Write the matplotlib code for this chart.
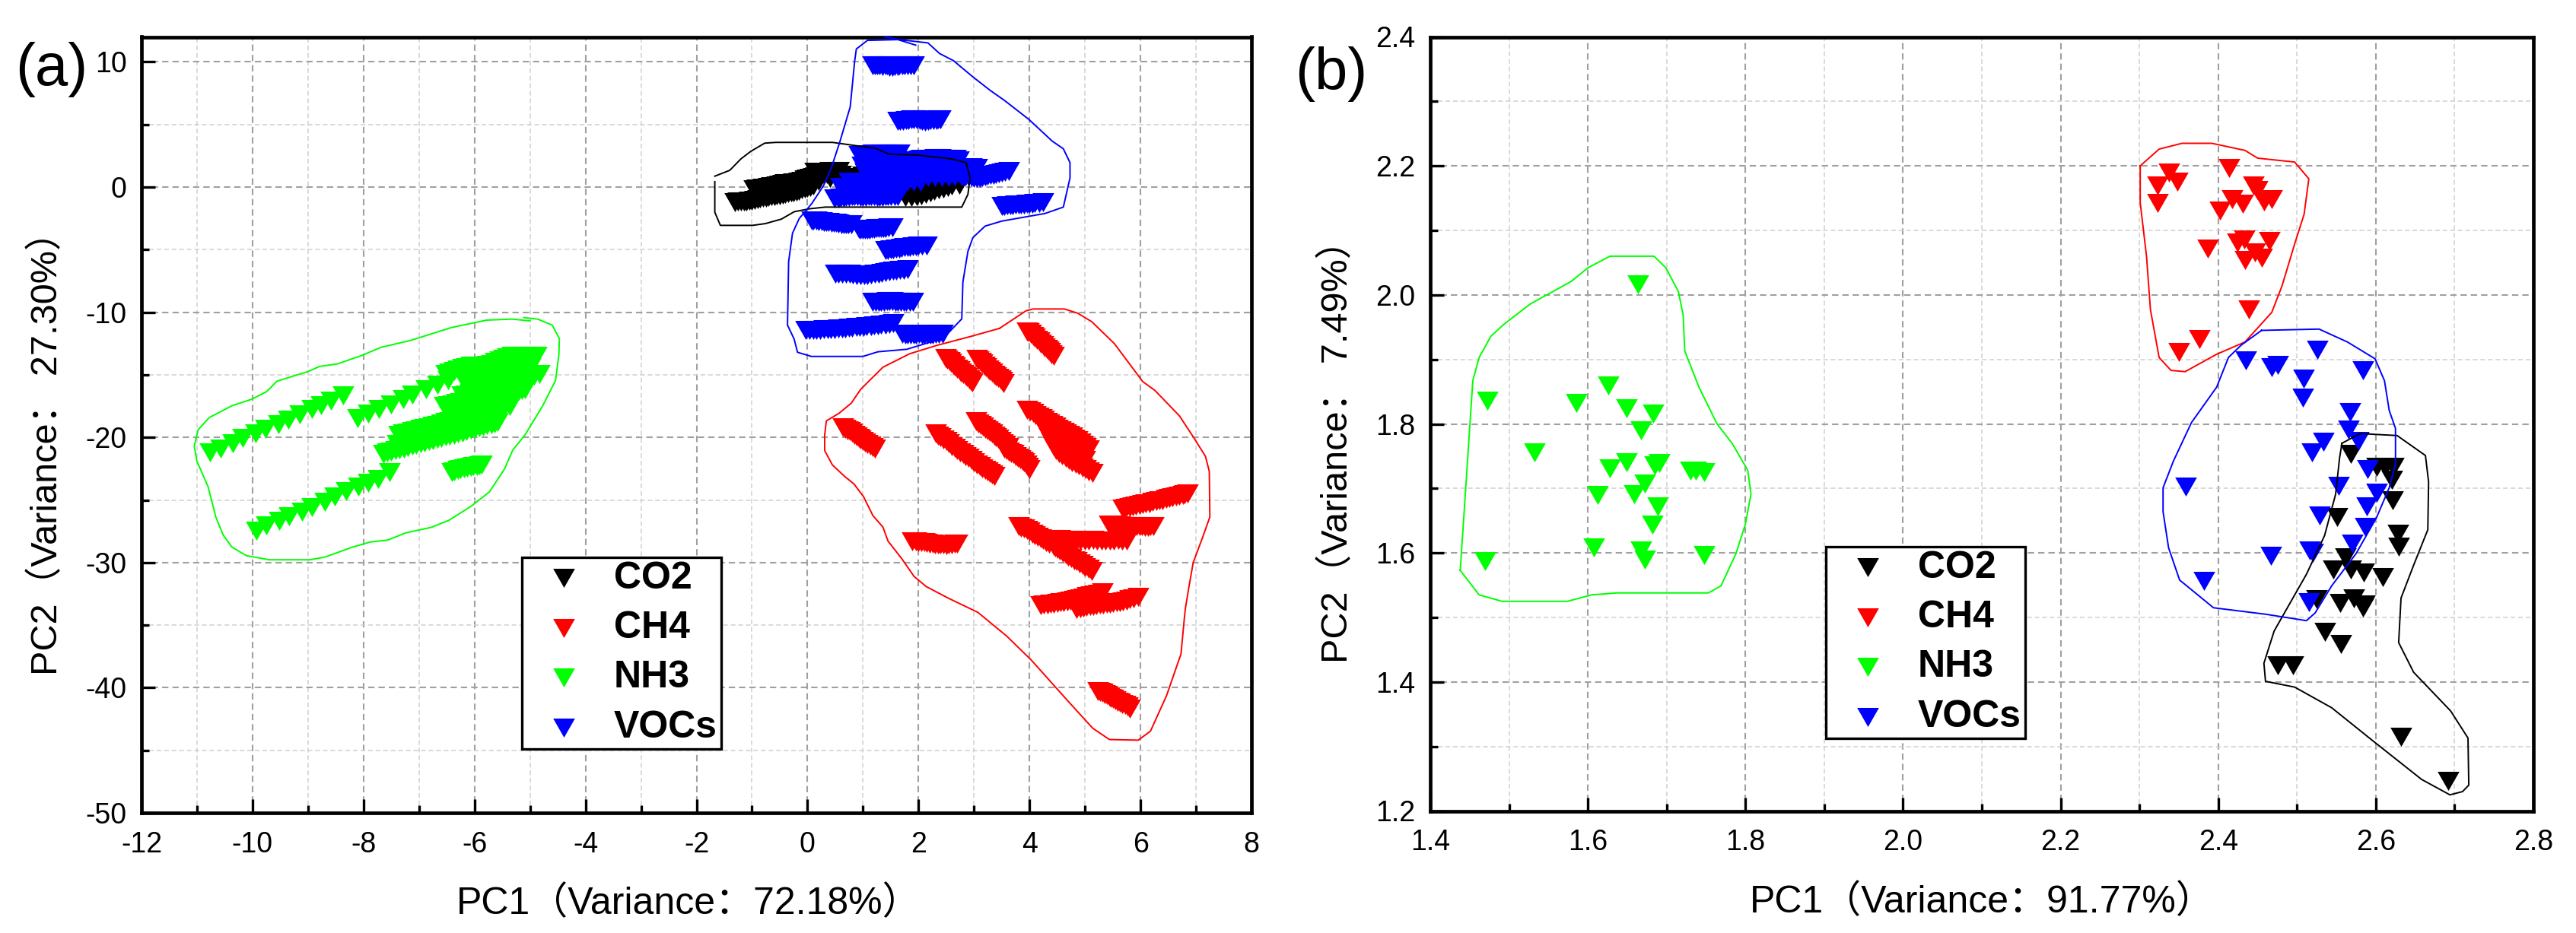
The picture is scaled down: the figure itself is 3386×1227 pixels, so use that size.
import matplotlib
matplotlib.use('Agg')
import matplotlib.pyplot as plt
from matplotlib.ticker import MultipleLocator

plt.rcParams['font.family'] = ['Liberation Sans', 'Noto Sans CJK SC']

names = ['CO2', 'CH4', 'NH3', 'VOCs']
colors = ['#000000', '#ff0000', '#00ff00', '#0000ff']

# panel (a) points, one block per streak
a_co2_x = [-1.31, -1.2, -1.1, -1.0, -.9, -.8, -.7, -.6, -.5, -.4, -.3, -.2, -.1, 0, .1,
           -.97, -.85, -.75, -.65, -.55, -.45, -.35, -.25, -.15, -.05, .05, .15, .25, .35, .45, .56,
           .13, .25, .4, .56,
           .6, .7, .78, .9, 1.0,
           1.76, 1.87, 1.97, 2.05, 2.13, 2.21, 2.29, 2.37, 2.45, 2.53, 2.6, 2.73,
           -1.25, -1.15, -1.05, -.95, -.85, -.75, -.65, -.55, -.45, -.35, -.25, -.15, -.05, .05,
           -.91, -.8, -.7, -.6, -.5, -.4, -.3, -.2, -.1, 0, .1, .2, .3, .4, .5,
           -.6, -.4, -.2, 0, .2, .4, .6]
a_co2_y = [-1.2, -1.15, -1.15, -1.1, -.95, -.85, -.8, -.7, -.65, -.55, -.45, -.35, -.2, -.05, .1,
           -.2, -.1, -.05, .05, .1, .25, .3, .35, .4, .6, .7, .85, .95, 1.05, 1.2, 1.25,
           1.2, 1.2, 1.25, 1.25,
           .4, .5, .69, .8, .9,
           -.8, -.8, -.75, -.65, -.55, -.45, -.3, -.2, -.1, 0, .1, .2,
           -1.18, -1.15, -1.12, -1.02, -.9, -.82, -.75, -.68, -.6, -.5, -.4, -.28, -.12, .02,
           -.15, -.08, 0, .08, .18, .28, .32, .38, .5, .65, .78, .9, 1.0, 1.12, 1.22,
           -.25, -.05, .1, .3, .5, .7, .95]

a_ch4_x = [3.96, 4.03, 4.1, 4.17, 4.24, 4.31, 4.37, 4.43,
           2.49, 2.56, 2.63, 2.7, 2.77, 2.84, 2.91, 2.97,
           3.05, 3.12, 3.19, 3.26, 3.33, 3.4, 3.47, 3.53,
           .64, .72, .8, .88, .96, 1.04, 1.13, 1.22,
           2.31, 2.4, 2.5, 2.6, 2.7, 2.8, 2.9, 3.0, 3.1, 3.2, 3.28, 3.36,
           3.04, 3.12, 3.2, 3.28, 3.36, 3.44, 3.52, 3.61,
           3.55, 3.63, 3.71, 3.79, 3.87, 3.94, 4.0,
           3.96, 4.06, 4.16, 4.26, 4.36, 4.46, 4.56, 4.66, 4.76, 4.86, 4.96, 5.06,
           4.19, 4.27, 4.35, 4.43, 4.53, 4.65, 4.77, 4.89, 5.01, 5.13,
           4.4, 4.55, 4.7, 4.85, 5.0,
           1.89, 2.0, 2.1, 2.2, 2.3, 2.4, 2.5, 2.6, 2.7,
           3.81, 3.9, 4.0, 4.1, 4.2, 4.3, 4.43,
           4.5, 4.6, 4.7, 4.8, 4.9, 5.0, 5.12,
           4.4, 4.55, 4.7, 4.85, 5.0, 5.15, 5.3, 5.45, 5.6, 5.75,
           5.43, 5.53, 5.63, 5.73, 5.83, 5.93, 6.03, 6.13, 6.23,
           5.68, 5.8, 5.92, 6.04, 6.16, 6.28, 6.4, 6.52, 6.64, 6.76, 6.85,
           4.2, 4.32, 4.44, 4.56, 4.68, 4.8, 4.92, 5.04, 5.18, 5.32,
           4.85, 4.97, 5.09, 5.21, 5.33, 5.45, 5.57, 5.69, 5.81, 5.96,
           5.23, 5.31, 5.39, 5.47, 5.55, 5.63, 5.72, 5.81,
           1.95, 2.05, 2.15, 2.25, 2.35, 2.45, 2.55, 2.65,
           4.47, 4.62, 4.77, 4.92, 5.07, 5.22, 5.37, 5.52, 5.67,
           5.48, 5.58, 5.68, 5.78, 5.88, 5.98, 6.08, 6.18,
           5.74, 5.86, 5.98, 6.1, 6.22, 6.34, 6.46, 6.58, 6.7, 6.8,
           4.26, 4.38, 4.5, 4.62, 4.74, 4.86, 4.98, 5.11, 5.25,
           4.91, 5.03, 5.15, 5.27, 5.39, 5.51, 5.63, 5.75, 5.88,
           2.35, 2.45, 2.55, 2.65, 2.75, 2.85, 2.95, 3.05, 3.15, 3.24, 3.32,
           3.08, 3.16, 3.24, 3.32, 3.4, 3.48, 3.56,
           3.59, 3.67, 3.75, 3.83, 3.9, 3.97,
           4.01, 4.11, 4.21, 4.31, 4.41, 4.51, 4.61, 4.71, 4.81, 4.91, 5.01,
           4.23, 4.31, 4.39, 4.48, 4.59, 4.71, 4.83, 4.95, 5.07,
           3.85, 3.95, 4.05, 4.15, 4.25, 4.36, 4.46, 4.55, 4.65, 4.75, 4.85, 4.95, 5.06,
           3.99, 4.06, 4.13, 4.2, 4.27, 4.34, 4.4,
           2.52, 2.59, 2.66, 2.73, 2.8, 2.87, 2.94,
           3.08, 3.15, 3.22, 3.29, 3.36, 3.43, 3.5,
           .68, .76, .84, .92, 1.0, 1.08, 1.17,
           5.27, 5.35, 5.43, 5.51, 5.59, 5.67, 5.76]
a_ch4_y = [-11.52, -11.75, -12.05, -12.35, -12.65, -12.95, -13.2, -13.5,
           -13.64, -13.9, -14.2, -14.5, -14.8, -15.05, -15.35, -15.62,
           -13.7, -14.0, -14.25, -14.55, -14.85, -15.1, -15.4, -15.66,
           -19.2, -19.42, -19.65, -19.9, -20.15, -20.4, -20.65, -20.92,
           -19.71, -20.0, -20.3, -20.7, -21.0, -21.35, -21.65, -22.0, -22.3, -22.6, -22.85, -23.1,
           -18.74, -19.0, -19.3, -19.55, -19.85, -20.1, -20.45, -20.76,
           -20.9, -21.15, -21.35, -21.6, -21.85, -22.2, -22.56,
           -17.79, -18.05, -18.35, -18.6, -18.9, -19.15, -19.45, -19.7, -19.95, -20.25, -20.6, -20.96,
           -18.55, -19.3, -20.0, -20.7, -21.28, -21.65, -22.0, -22.25, -22.55, -22.86,
           -19.7, -20.3, -20.8, -21.3, -21.8,
           -28.3, -28.35, -28.4, -28.5, -28.55, -28.55, -28.6, -28.55, -28.5,
           -27.09, -27.3, -27.55, -27.8, -28.05, -28.35, -28.66,
           -28.9, -29.2, -29.5, -29.8, -30.05, -30.35, -30.69,
           -28.1, -28.14, -28.2, -28.2, -28.25, -28.2, -28.25, -28.25, -28.2, -28.26,
           -26.99, -27.0, -27.05, -27.1, -27.1, -27.1, -27.12, -27.15, -27.1,
           -25.67, -25.58, -25.45, -25.35, -25.25, -25.12, -25.0, -24.85, -24.75, -24.62, -24.5,
           -33.4, -33.35, -33.3, -33.2, -33.1, -33.0, -32.85, -32.7, -32.55, -32.4,
           -33.7, -33.6, -33.5, -33.4, -33.35, -33.3, -33.2, -33.1, -32.95, -32.75,
           -40.25, -40.4, -40.6, -40.8, -41.0, -41.2, -41.4, -41.65,
           -28.32, -28.38, -28.45, -28.52, -28.55, -28.58, -28.58, -28.52,
           -28.12, -28.16, -28.2, -28.22, -28.22, -28.22, -28.25, -28.22, -28.22,
           -27.0, -27.02, -27.08, -27.1, -27.1, -27.1, -27.14, -27.12,
           -25.62, -25.5, -25.4, -25.3, -25.18, -25.05, -24.92, -24.8, -24.68, -24.55,
           -33.38, -33.32, -33.25, -33.15, -33.05, -32.92, -32.78, -32.62, -32.48,
           -33.65, -33.55, -33.45, -33.38, -33.32, -33.25, -33.15, -33.02, -32.85,
           -19.85, -20.15, -20.5, -20.85, -21.18, -21.5, -21.82, -22.15, -22.45, -22.72, -22.98,
           -18.87, -19.15, -19.42, -19.7, -19.98, -20.28, -20.6,
           -21.02, -21.25, -21.48, -21.72, -22.0, -22.38,
           -17.92, -18.2, -18.48, -18.75, -19.02, -19.3, -19.58, -19.82, -20.1, -20.42, -20.78,
           -18.9, -19.65, -20.35, -21.0, -21.45, -21.82, -22.12, -22.4, -22.7,
           -27.2, -27.42, -27.68, -27.92, -28.2, -28.5, -28.78, -29.05, -29.35, -29.65, -29.92, -30.2, -30.5,
           -11.62, -11.9, -12.2, -12.5, -12.8, -13.08, -13.35,
           -13.77, -14.05, -14.35, -14.65, -14.92, -15.2, -15.48,
           -13.85, -14.12, -14.4, -14.7, -14.98, -15.25, -15.52,
           -19.3, -19.53, -19.78, -20.02, -20.28, -20.52, -20.78,
           -40.32, -40.5, -40.7, -40.9, -41.1, -41.3, -41.52]

a_nh3_x = [-10.77, -10.58, -10.36, -10.17, -9.94, -9.76, -9.53, -9.35, -9.15, -8.93, -8.77, -8.58, -8.37,
           -8.11, -7.92, -7.72, -7.51, -7.28, -7.12, -6.87, -6.67, -6.48,
           -9.93, -9.75, -9.52, -9.34, -9.11, -8.93, -8.7, -8.52, -8.31, -8.1, -7.92, -7.74, -7.53,
           -6.41, -6.3, -6.19, -6.07, -5.96, -5.87,
           -6.36, -6.25, -6.13, -6.02, -5.92,
           -7.64, -7.5, -7.35, -7.2, -7.05, -6.9, -6.75, -6.6, -6.45, -6.3, -6.15, -6.0, -5.85, -5.7, -5.59,
           -7.37, -7.2, -7.05, -6.9, -6.75, -6.6, -6.45, -6.3, -6.15, -6.0, -5.85, -5.7, -5.55, -5.37,
           -6.54, -6.4, -6.25, -6.1, -5.95, -5.8, -5.65, -5.5, -5.35, -5.2, -5.09,
           -6.23, -6.08, -5.93, -5.78, -5.63, -5.48, -5.33, -5.18, -5.03, -4.83,
           -6.2, -6.0, -5.8, -5.6, -5.4, -5.2, -5.0,
           -6.52, -6.37, -6.22, -6.07, -5.92, -5.77, -5.62, -5.47, -5.32, -5.17, -5.02, -4.89,
           -7.57, -7.42, -7.27, -7.12, -6.97, -6.82, -6.67, -6.52, -6.37, -6.22, -6.07, -5.92, -5.77, -5.64,
           -7.29, -7.12, -6.97, -6.82, -6.67, -6.52, -6.37, -6.22, -6.07, -5.92, -5.77, -5.62, -5.46,
           -7.4, -7.2, -7.0, -6.8, -6.6, -6.4, -6.2, -6.0, -5.8, -5.6,
           -6.47, -6.32, -6.17, -6.02, -5.87, -5.72, -5.57, -5.42, -5.27, -5.14,
           -6.15, -6.0, -5.85, -5.7, -5.55, -5.4, -5.25, -5.1, -4.93,
           -6.1, -5.9, -5.7, -5.5, -5.3, -5.1,
           -6.45, -6.3, -6.15, -6.0, -5.85, -5.7, -5.55, -5.4, -5.25, -5.1, -4.95]
a_nh3_y = [-21.23, -20.89, -20.49, -20.04, -19.68, -19.31, -18.97, -18.56, -18.16, -17.75, -17.45, -17.09, -16.64,
           -18.46, -18.1, -17.71, -17.35, -16.94, -16.6, -16.17, -15.79, -15.43,
           -27.43, -27.06, -26.7, -26.3, -25.92, -25.55, -25.14, -24.74, -24.33, -23.93, -23.62, -23.32, -22.81,
           -22.81, -22.63, -22.49, -22.37, -22.29, -22.2,
           -22.72, -22.55, -22.42, -22.32, -22.25,
           -21.32, -21.15, -20.95, -20.78, -20.6, -20.4, -20.22, -20.05, -19.85, -19.68, -19.5, -19.3, -19.12, -18.95, -18.79,
           -19.78, -19.6, -19.42, -19.25, -19.08, -18.9, -18.72, -18.55, -18.38, -18.2, -18.02, -17.85, -17.68, -17.47,
           -17.49, -17.35, -17.22, -17.08, -16.95, -16.8, -16.68, -16.55, -16.4, -16.28, -16.15,
           -16.66, -16.48, -16.3, -16.1, -15.92, -15.72, -15.55, -15.35, -15.18, -14.92,
           -15.4, -15.25, -15.1, -14.9, -14.75, -14.6, -14.4,
           -14.96, -14.7, -14.45, -14.3, -14.28, -14.24, -14.0, -13.75, -13.5, -13.46, -13.46, -13.46,
           -21.23, -21.05, -20.87, -20.68, -20.5, -20.32, -20.13, -19.95, -19.78, -19.6, -19.4, -19.2, -19.03, -18.87,
           -19.7, -19.5, -19.33, -19.17, -19.0, -18.8, -18.63, -18.47, -18.3, -18.1, -17.93, -17.77, -17.58,
           -20.55, -20.35, -20.1, -19.9, -19.65, -19.45, -19.2, -19.0, -18.7, -18.5,
           -17.42, -17.28, -17.15, -17.0, -16.88, -16.75, -16.62, -16.48, -16.35, -16.2,
           -16.57, -16.38, -16.2, -16.0, -15.82, -15.63, -15.45, -15.27, -15.05,
           -15.32, -15.18, -15.0, -14.82, -14.68, -14.5,
           -14.82, -14.58, -14.38, -14.3, -14.26, -14.15, -13.88, -13.6, -13.48, -13.46, -13.46]

a_voc_x = [1.17, 1.26, 1.35, 1.44, 1.53, 1.62, 1.71, 1.8, 1.92,
           1.62, 1.72, 1.82, 1.92, 2.02, 2.12, 2.22, 2.32, 2.39,
           3.5, 3.6, 3.7, 3.8, 3.9, 4.0, 4.1, 4.25,
           2.8, 2.9, 3.0, 3.1, 3.2, 3.3, 3.4, 3.5, 3.63, 2.95, 3.05,
           .92, 1.1, 1.19, 1.3, 1.4, 1.5, 1.6, 1.66,
           2.01, 2.1, 2.2, 2.3, 2.4, 2.5, 2.6, 2.67,
           .98, 1.1, 1.22, 1.34, 1.46, 1.58, 1.7, 1.82, 1.94, 2.06, 2.18, 2.3, 2.42, 2.54, 2.7,
           1.1, 1.22, 1.34, 1.46, 1.58, 1.7, 1.82, 1.94, 2.06, 2.18, 2.3, 2.42, 2.54, 2.66, 2.78,
           .6, .72, .84, .96, 1.08, 1.2, 1.32, 1.44, 1.56, 1.68, 1.8, 1.92, 2.04,
           .49, .6, .7, .8, .9, 1.0, 1.1, 1.2, 1.3, 1.4, 1.5, 1.63,
           .07, .16, .25, .34, .43, .52, .61, .7, .79,
           .92, 1.0, 1.08, 1.16, 1.24, 1.32, 1.4, 1.53,
           1.4, 1.5, 1.6, 1.7, 1.8, 1.9, 2.0, 2.14,
           .5, .63, .76, .89, 1.02, 1.15, 1.28, 1.41, 1.54, 1.67, 1.8,
           1.18, 1.28, 1.38, 1.48, 1.58, 1.68, 1.78, 1.9,
           -.03, .1, .23, .36, .49, .62, .75, .88, 1.01, 1.14, 1.27, 1.4, 1.54,
           1.71, 1.81, 1.91, 2.01, 2.11, 2.21, 2.31, 2.43,
           1.21, 1.3, 1.4, 1.48, 1.57, 1.66, 1.75, 1.86,
           1.67, 1.77, 1.87, 1.97, 2.07, 2.17, 2.27, 2.35,
           3.55, 3.65, 3.75, 3.85, 3.95, 4.05, 4.17,
           2.85, 2.95, 3.05, 3.15, 3.25, 3.35, 3.45, 3.56,
           1.04, 1.16, 1.28, 1.4, 1.52, 1.64, 1.76, 1.88, 2.0, 2.12, 2.24, 2.36, 2.48, 2.6, 2.72,
           1.04, 1.16, 1.28, 1.4, 1.52, 1.64, 1.76, 1.88, 2.0, 2.12, 2.24, 2.36, 2.48, 2.6, 2.72,
           .75, .87, .99, 1.11, 1.23, 1.35, 1.47, 1.59, 1.72,
           .55, .65, .75, .85, .95, 1.05, 1.15, 1.25, 1.35, 1.45, 1.57,
           1.0, 1.05, 1.15, 1.25, 1.35, 1.45, 1.55, 1.63,
           2.05, 2.15, 2.25, 2.35, 2.45, 2.55, 2.63,
           .11, .2, .29, .38, .47, .56, .65, .74,
           .96, 1.04, 1.12, 1.2, 1.28, 1.36, 1.46,
           1.45, 1.55, 1.65, 1.75, 1.85, 1.95, 2.07,
           .56, .69, .82, .95, 1.08, 1.21, 1.34, 1.47, 1.6, 1.73,
           1.23, 1.33, 1.43, 1.53, 1.63, 1.73, 1.84,
           .03, .16, .29, .42, .55, .68, .81, .94, 1.07, 1.2, 1.33, 1.47,
           1.76, 1.86, 1.96, 2.06, 2.16, 2.26, 2.37]
a_voc_y = [9.75, 9.7, 9.68, 9.72, 9.6, 9.68, 9.7, 9.72, 9.72,
           5.3, 5.3, 5.35, 5.4, 5.35, 5.25, 5.35, 5.35, 5.4,
           -1.5, -1.48, -1.44, -1.4, -1.38, -1.34, -1.3, -1.24,
           .9, .85, .7, .75, .85, .95, 1.05, 1.15, 1.28, 1.6, 1.55,
           2.56, 2.6, 2.66, 2.66, 2.7, 2.7, 2.68, 2.66,
           2.2, 2.25, 2.25, 2.28, 2.28, 2.25, 2.25, 2.25,
           1.7, 1.65, 1.6, 1.6, 1.6, 1.55, 1.55, 1.55, 1.5, 1.5, 1.5, 1.5, 1.5, 1.5, 1.5,
           .9, .9, .85, .85, .85, .8, .8, .85, .85, .8, .8, .8, .8, .85, .85,
           0, 0, .05, .05, .05, .1, .05, .05, 0, .05, .45, .45, .45,
           -.93, -.85, -.8, -.75, -.75, -.8, -.75, -.75, -.8, -.75, -.75, -.75,
           -2.66, -2.7, -2.75, -2.8, -2.85, -2.85, -2.95, -2.95, -3.0,
           -3.35, -3.4, -3.4, -3.35, -3.3, -3.25, -3.25, -3.2,
           -5.05, -5.0, -4.95, -4.85, -4.8, -4.75, -4.7, -4.65,
           -6.9, -6.9, -6.95, -7.05, -7.05, -7.0, -6.9, -6.8, -6.7, -6.65, -6.55,
           -9.15, -9.15, -9.15, -9.1, -9.15, -9.2, -9.2, -9.2,
           -11.45, -11.45, -11.4, -11.35, -11.35, -11.3, -11.25, -11.2, -11.15, -11.1, -11.05, -11.0, -10.87,
           -11.75, -11.8, -11.8, -11.75, -11.8, -11.8, -11.75, -11.75,
           9.72, 9.7, 9.7, 9.62, 9.65, 9.7, 9.7, 9.72,
           5.3, 5.32, 5.38, 5.38, 5.3, 5.3, 5.35, 5.38,
           -1.5, -1.46, -1.42, -1.4, -1.36, -1.32, -1.27,
           .88, .78, .72, .8, .9, 1.0, 1.1, 1.2,
           2.1, 2.1, 2.1, 2.1, 2.1, 2.1, 2.1, 2.1, 2.1, 2.1, 2.1, 2.1, 2.1, 2.1, 2.1,
           1.15, 1.15, 1.15, 1.15, 1.15, 1.15, 1.15, 1.15, 1.15, 1.15, 1.15, 1.15, 1.15, 1.15, 1.15,
           .45, .45, .45, .45, .45, .45, .45, .45, .45,
           -.9, -.82, -.77, -.75, -.78, -.78, -.75, -.78, -.78, -.75, -.75,
           2.58, 2.6, 2.63, 2.66, 2.68, 2.7, 2.69, 2.66,
           2.22, 2.25, 2.27, 2.28, 2.27, 2.25, 2.25,
           -2.68, -2.72, -2.78, -2.82, -2.85, -2.9, -2.95, -2.98,
           -3.38, -3.4, -3.38, -3.32, -3.28, -3.25, -3.22,
           -5.02, -4.98, -4.9, -4.82, -4.78, -4.72, -4.68,
           -6.9, -6.92, -7.0, -7.05, -7.02, -6.95, -6.85, -6.75, -6.68, -6.6,
           -9.15, -9.15, -9.12, -9.12, -9.18, -9.2, -9.2,
           -11.45, -11.42, -11.38, -11.35, -11.32, -11.28, -11.22, -11.18, -11.12, -11.08, -11.02, -10.95,
           -11.78, -11.8, -11.78, -11.78, -11.8, -11.78, -11.75]

# panel (a) hand drawn outlines
a_co2_line_x = [-1.67, -1.4, -1.2, -1.02, -.77, -.57, .45, .87, 1.21, 1.48, 1.97, 2.6, 2.86, 2.93, 2.89, 2.78,
                .32, .03, -.24, -.47, -.76, -.99, -1.57, -1.67, -1.67]
a_co2_line_y = [.87, 1.34, 2.25, 2.86, 3.51, 3.57, 3.57, 3.31, 3.12, 2.62, 2.56, 2.25, 1.95, .73, -.59, -1.6,
                -1.6, -1.74, -1.97, -2.56, -2.92, -3.06, -3.06, -2.01, .43]
a_ch4_line_x = [3.46, 3.77, 3.94, 4.07, 4.63, 4.87, 5.12, 5.53, 6.04, 6.26, 6.7, 6.97, 7.17, 7.24, 7.25, 7.12, 6.95,
                6.87, 6.81, 6.79, 6.73, 6.47, 6.18, 5.96, 5.44, 5.14, 4.7, 4.03, 3.59, 3.07, 2.53, 2.14, 1.92, 1.7,
                1.45, 1.36, 1.18, 1.01, .84, .67, .45, .31, .31, .34, .57, .79, .96, 1.36, 1.84, 2.33, 2.92, 3.46]
a_ch4_line_y = [-11.29, -10.38, -9.88, -9.74, -9.74, -10.08, -10.75, -12.51, -15.54, -16.25, -18.27, -20.09, -21.51,
                -22.72, -26.36, -27.98, -30.0, -32.02, -33.64, -34.46, -37.3, -40.63, -43.47, -44.19, -44.14, -43.24,
                -41.1, -37.78, -35.88, -33.98, -32.83, -31.92, -31.11, -29.7, -28.28, -27.17, -26.26, -24.74, -23.73,
                -23.12, -22.21, -21.06, -19.79, -18.68, -18.07, -17.26, -16.15, -14.39, -13.32, -12.65, -11.96, -11.29]
a_nh3_line_x = [-5.11, -4.86, -4.6, -4.47, -4.48, -4.54, -4.77, -5.09, -5.31, -5.46, -5.73, -6.05, -6.46, -6.78, -7.24,
                -7.56, -7.88, -8.2, -8.7, -8.97, -9.7, -10.11, -10.37, -10.53, -10.66, -10.8, -11.0, -11.05, -10.98,
                -10.78, -10.37, -10.02, -9.75, -9.56, -9.0, -8.79, -8.47, -8.01, -7.69, -7.15, -6.42, -5.78, -5.32, -5.0]
a_nh3_line_y = [-10.43, -10.55, -11.03, -12.11, -13.42, -15.45, -17.47, -19.8, -21.01, -22.53, -24.35, -25.47, -26.62,
                -27.19, -27.63, -28.2, -28.36, -28.77, -29.57, -29.78, -29.78, -29.45, -28.77, -27.79, -26.38, -23.95,
                -21.92, -20.71, -19.39, -18.42, -17.47, -16.96, -16.36, -15.51, -14.74, -14.33, -14.13, -13.42, -12.81,
                -12.25, -11.23, -10.63, -10.55, -10.69]
a_voc_line_x = [1.95, 1.63, 1.08, .88, .85, .77, .58, .43, .29, .08, -.15, -.27, -.34, -.36, -.24, -.18, .07, 1.0, 1.27,
                1.79, 2.24, 2.52, 2.78, 2.8, 2.89, 2.98, 3.2, 3.5, 4.28, 4.61, 4.73, 4.73, 4.61, 4.41, 3.99, 3.55, 3.29,
                2.97, 2.63, 2.38, 2.17, 1.66, 1.39]
a_voc_line_y = [11.34, 11.78, 11.72, 11.03, 10.06, 6.41, 3.57, 1.54, .12, -1.3, -2.52, -3.69, -5.96, -11.03, -12.15,
                -13.2, -13.53, -13.53, -13.16, -12.96, -12.35, -11.74, -10.53, -7.59, -5.15, -4.04, -3.12, -2.72, -2.11,
                -1.6, .73, 1.95, 3.06, 3.67, 5.4, 6.92, 7.73, 8.84, 10.1, 10.67, 11.52, 11.78, 12.0]

# panel (b) points
b_co2_x = [2.568, 2.601, 2.612, 2.622, 2.62, 2.621, 2.551, 2.628, 2.629, 2.562, 2.546, 2.568, 2.585, 2.609,
           2.525, 2.555, 2.572, 2.584, 2.586, 2.535, 2.556, 2.476, 2.495, 2.632, 2.692]
b_co2_y = [1.753, 1.733, 1.733, 1.733, 1.713, 1.682, 1.656, 1.63, 1.61, 1.593, 1.574, 1.574, 1.569, 1.563,
           1.528, 1.522, 1.529, 1.515, 1.52, 1.478, 1.459, 1.426, 1.426, 1.315, 1.247]
b_ch4_x = [2.338, 2.348, 2.323, 2.323, 2.414, 2.445, 2.45, 2.418, 2.431, 2.402, 2.458, 2.468, 2.433, 2.424, 2.465,
           2.387, 2.447, 2.455, 2.434, 2.439, 2.376, 2.35]
b_ch4_y = [2.189, 2.175, 2.169, 2.143, 2.197, 2.169, 2.163, 2.148, 2.141, 2.131, 2.145, 2.148, 2.086, 2.081, 2.084,
           2.072, 2.066, 2.058, 2.054, 1.977, 1.931, 1.911]
b_nh3_x = [1.664, 1.472, 1.47, 1.532, 1.585, 1.626, 1.649, 1.683, 1.667, 1.628, 1.649, 1.685, 1.691, 1.73, 1.737,
           1.748, 1.672, 1.659, 1.612, 1.689, 1.682, 1.608, 1.667, 1.672, 1.748]
b_nh3_y = [2.016, 1.836, 1.587, 1.756, 1.832, 1.859, 1.824, 1.816, 1.79, 1.731, 1.741, 1.736, 1.739, 1.727, 1.727,
           1.725, 1.707, 1.691, 1.69, 1.672, 1.644, 1.609, 1.604, 1.59, 1.597]
b_voc_x = [2.435, 2.476, 2.468, 2.526, 2.584, 2.508, 2.507, 2.567, 2.565, 2.578, 2.534, 2.519, 2.59, 2.553, 2.359,
           2.601, 2.589, 2.529, 2.587, 2.57, 2.516, 2.52, 2.467, 2.382, 2.515]
b_voc_y = [1.899, 1.891, 1.888, 1.915, 1.883, 1.87, 1.841, 1.818, 1.791, 1.773, 1.772, 1.756, 1.73, 1.704, 1.703,
           1.693, 1.672, 1.658, 1.64, 1.614, 1.604, 1.6, 1.595, 1.557, 1.523]

# panel (b) outlines
b_co2_line_x = [2.557, 2.58, 2.627, 2.663, 2.667, 2.666, 2.648, 2.632, 2.629, 2.648, 2.695, 2.717, 2.718, 2.71, 2.694,
                2.658, 2.596, 2.544, 2.497, 2.46, 2.458, 2.471, 2.512, 2.535, 2.549, 2.554, 2.557]
b_co2_line_y = [1.77, 1.785, 1.782, 1.751, 1.71, 1.636, 1.581, 1.53, 1.461, 1.415, 1.355, 1.313, 1.24, 1.23, 1.225,
                1.249, 1.309, 1.36, 1.392, 1.401, 1.429, 1.479, 1.567, 1.627, 1.691, 1.747, 1.77]
b_ch4_line_x = [2.301, 2.325, 2.354, 2.392, 2.434, 2.45, 2.497, 2.515, 2.509, 2.497, 2.481, 2.468, 2.434, 2.398, 2.358,
                2.34, 2.325, 2.314, 2.309, 2.301, 2.301]
b_ch4_line_y = [2.2, 2.226, 2.235, 2.235, 2.224, 2.212, 2.206, 2.18, 2.125, 2.079, 2.014, 1.973, 1.927, 1.908, 1.881,
                1.883, 1.903, 1.977, 2.06, 2.143, 2.2]
b_nh3_line_x = [1.438, 1.442, 1.454, 1.462, 1.477, 1.493, 1.527, 1.579, 1.6, 1.628, 1.684, 1.699, 1.715, 1.721, 1.723,
                1.741, 1.764, 1.783, 1.803, 1.807, 1.8, 1.788, 1.769, 1.753, 1.637, 1.605, 1.574, 1.491, 1.462, 1.438]
b_nh3_line_y = [1.573, 1.645, 1.867, 1.903, 1.936, 1.954, 1.986, 2.021, 2.042, 2.06, 2.06, 2.042, 2.005, 1.968, 1.913,
                1.857, 1.8, 1.77, 1.728, 1.691, 1.645, 1.599, 1.549, 1.538, 1.538, 1.535, 1.525, 1.525, 1.535, 1.573]
b_voc_line_x = [2.455, 2.528, 2.564, 2.599, 2.611, 2.617, 2.625, 2.625, 2.617, 2.601, 2.575, 2.544, 2.523, 2.512, 2.46,
                2.394, 2.351, 2.337, 2.33, 2.33, 2.343, 2.366, 2.398, 2.413, 2.429, 2.455]
b_voc_line_y = [1.945, 1.947, 1.927, 1.901, 1.867, 1.821, 1.793, 1.738, 1.701, 1.655, 1.599, 1.549, 1.507, 1.495, 1.505,
                1.515, 1.558, 1.608, 1.664, 1.701, 1.742, 1.802, 1.857, 1.903, 1.922, 1.945]

xticks_a = [-12, -10, -8, -6, -4, -2, 0, 2, 4, 6, 8]
yticks_a = [-50, -40, -30, -20, -10, 0, 10]
xticks_b = [1.4, 1.6, 1.8, 2.0, 2.2, 2.4, 2.6, 2.8]
yticks_b = [1.2, 1.4, 1.6, 1.8, 2.0, 2.2, 2.4]

W, H = 3386, 1227
tri = [(-1, .875), (1, .875), (0, -.875)]


def panel(fig, box, points, lines, xlim, ylim, xticks, yticks, xminor, yminor, fmt):
    left, top, right, bottom = box
    ax = fig.add_axes([left / W, 1 - bottom / H, (right - left) / W, (bottom - top) / H])
    for (x, y), c, n in zip(points, colors, names):
        ax.scatter(x, y, marker=tri, s=425, color=c, linewidths=0, label=n, zorder=3, clip_on=False, antialiased=False)
    for (x, y), c in zip(lines, colors):
        ax.plot(x, y, color=c, lw=1.4, zorder=4, clip_on=False)
    ax.set_xlim(xlim)
    ax.set_ylim(ylim)
    ax.set_xticks(xticks)
    ax.set_yticks(yticks)
    ax.set_xticklabels([fmt % v for v in xticks])
    ax.set_yticklabels([fmt % v for v in yticks])
    ax.xaxis.set_minor_locator(MultipleLocator(xminor))
    ax.yaxis.set_minor_locator(MultipleLocator(yminor))
    ax.set_axisbelow(True)
    ax.grid(which='major', color='#a0a0a0', lw=1.5, ls=(0, (4, 2.5)))
    ax.grid(which='minor', color='#cfcfcf', lw=1.1, ls=(0, (4, 2.5)))
    ax.tick_params(which='major', direction='in', length=13, width=2.4, labelsize=27)
    ax.tick_params(which='minor', direction='in', length=7.5, width=2.4)
    ax.tick_params(axis='x', which='major', pad=17)
    ax.tick_params(axis='y', which='major', pad=14)
    for s in ax.spines.values():
        s.set_linewidth(3.4)
    return ax


fig = plt.figure(figsize=(W / 100, H / 100), dpi=100)

ax1 = panel(fig, (186, 48.5, 1645, 1069),
            [(a_co2_x, a_co2_y), (a_ch4_x, a_ch4_y), (a_nh3_x, a_nh3_y), (a_voc_x, a_voc_y)],
            [(a_co2_line_x, a_co2_line_y), (a_ch4_line_x, a_ch4_line_y),
             (a_nh3_line_x, a_nh3_line_y), (a_voc_line_x, a_voc_line_y)],
            (-12, 8), (-50, 12), xticks_a, yticks_a, 1, 5, '%d')
ax2 = panel(fig, (1880, 48.5, 3330, 1066.5),
            [(b_co2_x, b_co2_y), (b_ch4_x, b_ch4_y), (b_nh3_x, b_nh3_y), (b_voc_x, b_voc_y)],
            [(b_co2_line_x, b_co2_line_y), (b_ch4_line_x, b_ch4_line_y),
             (b_nh3_line_x, b_nh3_line_y), (b_voc_line_x, b_voc_line_y)],
            (1.4, 2.8), (1.2, 2.4), xticks_b, yticks_b, .1, .1, '%.1f')

fig.text(905 / W, 1 - 1188 / H, 'PC1（Variance：72.18%）', fontsize=36, ha='center', va='center')
fig.text(2605 / W, 1 - 1186 / H, 'PC1（Variance：91.77%）', fontsize=36, ha='center', va='center')
fig.text(62 / W, 1 - 584 / H, 'PC2（Variance： 27.30%）', fontsize=35, rotation=90, ha='center', va='center')
fig.text(1758 / W, 1 - 582 / H, 'PC2（Variance： 7.49%）', fontsize=35, rotation=90, ha='center', va='center')
fig.text(68 / W, 1 - 92 / H, '(a)', fontsize=56, ha='center', va='center')
fig.text(1750 / W, 1 - 98 / H, '(b)', fontsize=56, ha='center', va='center')

for ax, lx, ly in [(ax1, 686, 985), (ax2, 2400, 971)]:
    leg = ax.legend(loc='lower left', bbox_to_anchor=(lx / W, 1 - ly / H), bbox_transform=fig.transFigure,
                    borderaxespad=0, fancybox=False, framealpha=1, edgecolor='black',
                    prop={'weight': 'bold', 'size': 36}, scatterpoints=1, borderpad=.1,
                    handlelength=2.0, handletextpad=.32, labelspacing=.39)
    leg.get_frame().set_linewidth(2.4)
    leg.set_zorder(5)

fig.savefig('out.png', dpi=100)
